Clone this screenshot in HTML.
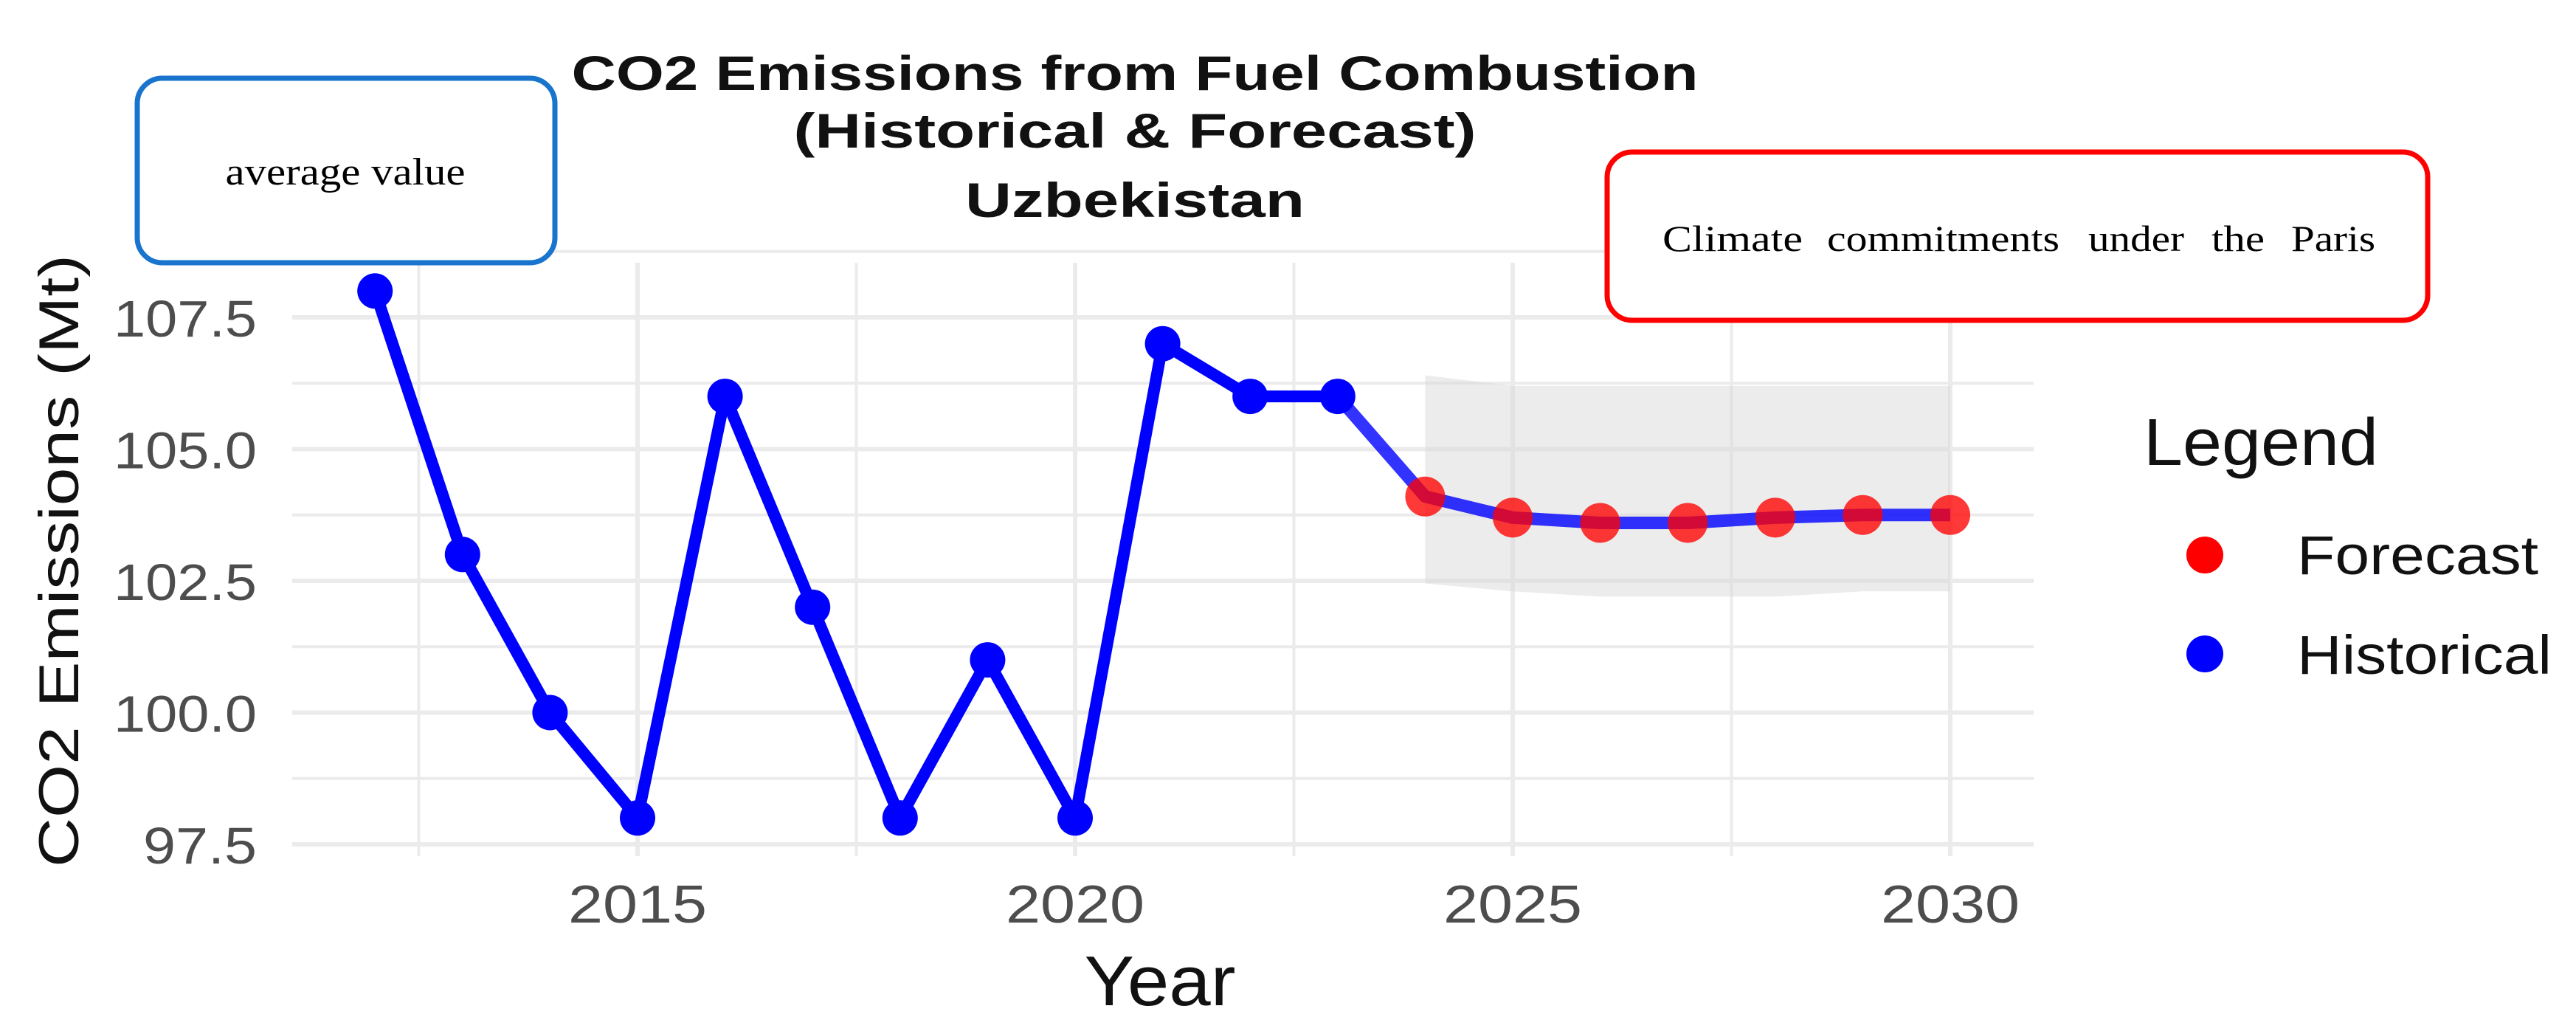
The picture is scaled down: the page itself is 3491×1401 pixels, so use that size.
<!DOCTYPE html>
<html><head><meta charset="utf-8"><style>
html,body{margin:0;padding:0;background:#fff;}
svg{display:block;font-family:"Liberation Sans",sans-serif;}
</style></head><body>
<svg id="chart" width="3491" height="1401" viewBox="0 0 3491 1401" xmlns="http://www.w3.org/2000/svg">
<g id="grid"></g>
<g id="ribbon"></g>
<g id="lines"></g>
<g id="points"></g>
<g id="axes"></g>
<g font-weight="bold" font-size="66" text-anchor="middle" fill="#111">
<text x="1538" y="122" textLength="1527" lengthAdjust="spacingAndGlyphs">CO2 Emissions from Fuel Combustion</text>
<text x="1538" y="200" textLength="925" lengthAdjust="spacingAndGlyphs">(Historical &amp; Forecast)</text>
<text x="1538" y="294" textLength="460" lengthAdjust="spacingAndGlyphs">Uzbekistan</text>
</g>
<text transform="translate(106,760) rotate(-90)" font-size="76" text-anchor="middle" fill="#111" textLength="830" lengthAdjust="spacingAndGlyphs">CO2 Emissions (Mt)</text>
<text x="1572" y="1362" font-size="96" text-anchor="middle" fill="#111" textLength="205" lengthAdjust="spacingAndGlyphs">Year</text>
<g>
<text x="2905" y="630" font-size="90" fill="#111" textLength="318" lengthAdjust="spacingAndGlyphs">Legend</text>
<circle cx="2988" cy="752" r="25" fill="#ff0000"/>
<text x="3113" y="778" font-size="74" fill="#111" textLength="327" lengthAdjust="spacingAndGlyphs">Forecast</text>
<circle cx="2988" cy="886" r="25" fill="#0000ff"/>
<text x="3113" y="913" font-size="74" fill="#111" textLength="345" lengthAdjust="spacingAndGlyphs">Historical</text>
</g>
<g>
<rect x="186" y="106" width="566" height="250" rx="34" fill="#fff" stroke="#1874cd" stroke-width="7"/>
<text x="468" y="250" font-family="'Liberation Serif',serif" font-size="52" text-anchor="middle" fill="#000" textLength="325" lengthAdjust="spacingAndGlyphs">average value</text>
</g>
<g font-family="'Liberation Serif',serif" font-size="50" fill="#000">
<rect x="2178" y="206" width="1112" height="228" rx="34" fill="#fff" stroke="#ff0000" stroke-width="7"/>
<text x="2253" y="340" textLength="190" lengthAdjust="spacingAndGlyphs">Climate</text>
<text x="2476" y="340" textLength="315" lengthAdjust="spacingAndGlyphs">commitments</text>
<text x="2830" y="340" textLength="130" lengthAdjust="spacingAndGlyphs">under</text>
<text x="2997" y="340" textLength="72" lengthAdjust="spacingAndGlyphs">the</text>
<text x="3105" y="340" textLength="114" lengthAdjust="spacingAndGlyphs">Paris</text>
</g>
</svg>
<script>
const histYears=[2012,2013,2014,2015,2016,2017,2018,2019,2020,2021,2022,2023];
const histValues=[108,103,100,98,106,102,98,101,98,107,106,106];
const fcYears=[2024,2025,2026,2027,2028,2029,2030];
const fcValues=[104.1,103.7,103.6,103.6,103.7,103.75,103.75];
const fcUpper=[106.4,106.2,106.2,106.2,106.2,106.2,106.2];
const fcLower=[102.45,102.3,102.2,102.2,102.2,102.3,102.3];
const xTicks=[2015,2020,2025,2030];
const yTicks=[97.5,100.0,102.5,105.0,107.5];

const NS='http://www.w3.org/2000/svg';
const X=yr=>864+(yr-2015)*118.6;
const Y=v=>430-(v-107.5)*71.4;
const L=396,R=2756,T=356,B=1160;
function mk(tag,attrs,parent){const e=document.createElementNS(NS,tag);for(const k in attrs)e.setAttribute(k,attrs[k]);parent.appendChild(e);return e;}
const grid=document.getElementById('grid');
for(let v=97.5;v<=108.8;v+=1.25){
  const g=mk('line',{x1:L,x2:R,y1:Y(v),y2:Y(v),stroke:'#ebebeb','stroke-width':(Math.abs((v-97.5)/2.5-Math.round((v-97.5)/2.5))<0.01)?6:4},grid);
  
  
}
for(let yr=2012.5;yr<=2030;yr+=2.5){
  const g=mk('line',{x1:X(yr),x2:X(yr),y1:T,y2:B,stroke:'#ebebeb','stroke-width':(yr%5===0)?6:4},grid);
  
  
}
const axes=document.getElementById('axes');
yTicks.forEach(v=>{
  const lbl=v.toFixed(1);
  const t=mk('text',{x:348,y:Y(v)+26,'font-size':70,'text-anchor':'end',fill:'#4d4d4d',textLength:lbl.length===5?194:154,lengthAdjust:'spacingAndGlyphs'},axes);
  t.textContent=lbl;
  
  
});
xTicks.forEach(yr=>{
  const t=mk('text',{x:X(yr),y:1250,'font-size':72,'text-anchor':'middle',fill:'#4d4d4d',textLength:188,lengthAdjust:'spacingAndGlyphs'},axes);
  t.textContent=yr;
  
  
});
let d='';
fcYears.forEach((yr,i)=>{d+=(i?'L':'M')+X(yr)+','+Y(fcUpper[i]);});
for(let i=fcYears.length-1;i>=0;i--)d+='L'+X(fcYears[i])+','+Y(fcLower[i]);
const rb=mk('path',{d:d+'Z',fill:'#d9d9d9','fill-opacity':0.5},document.getElementById('ribbon'));


const lines=document.getElementById('lines');
const hp=mk('polyline',{points:histYears.map((yr,i)=>X(yr)+','+Y(histValues[i])).join(' '),fill:'none',stroke:'#0000ff','stroke-width':16,'stroke-linejoin':'round'},lines);


const fpts=[[histYears[histYears.length-1],histValues[histValues.length-1]]].concat(fcYears.map((yr,i)=>[yr,fcValues[i]]));
const fp=mk('polyline',{points:fpts.map(p=>X(p[0])+','+Y(p[1])).join(' '),fill:'none',stroke:'#0000ff','stroke-opacity':0.8,'stroke-width':17,'stroke-linejoin':'round'},lines);


const pts=document.getElementById('points');
histYears.forEach((yr,i)=>{
  const c=mk('circle',{cx:X(yr),cy:Y(histValues[i]),r:24,fill:'#0000ff'},pts);
  
  
});
fcYears.forEach((yr,i)=>{
  const c=mk('circle',{cx:X(yr),cy:Y(fcValues[i]),r:27,fill:'#ff0000','fill-opacity':0.78},pts);
  
  
});
</script>
</body></html>
